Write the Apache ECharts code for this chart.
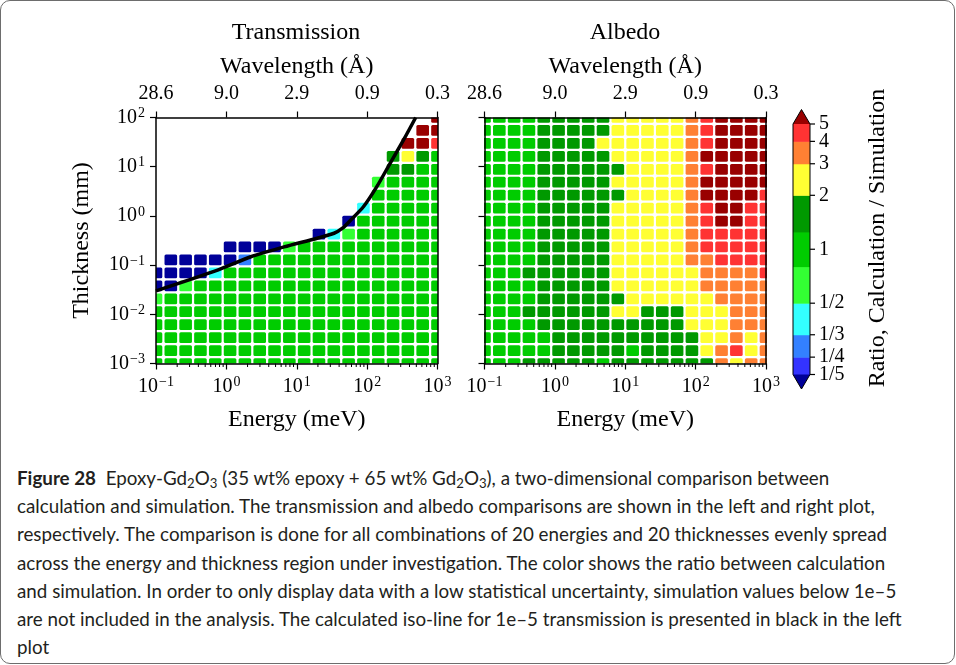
<!DOCTYPE html>
<html><head><meta charset="utf-8">
<script src="https://cdn.jsdelivr.net/npm/echarts@6/dist/echarts.min.js"></script>
<style>
html,body{margin:0;padding:0;background:#fff;}
#frame{position:absolute;left:0;top:0;width:953px;height:662px;border:1px solid #6d6d6d;border-radius:10px;}
#chart{position:absolute;left:0;top:0;width:956px;height:450px;}
#cap{position:absolute;left:17px;top:464px;font-family:Lato,'Noto Sans',sans-serif;font-size:18.8px;line-height:28.2px;color:#231f20;white-space:nowrap;}
#cap b{font-weight:bold;}
sub{font-size:0.7em;vertical-align:-0.25em;line-height:0;}
</style></head><body>
<div id="frame"></div>
<div id="chart"></div>
<div id="cap"><b>Figure 28</b>&nbsp; Epoxy-Gd<sub>2</sub>O<sub>3</sub> (35 wt% epoxy + 65 wt% Gd<sub>2</sub>O<sub>3</sub>), a two-dimensional comparison between<br>calculation and simulation. The transmission and albedo comparisons are shown in the left and right plot,<br>respectively. The comparison is done for all combinations of 20 energies and 20 thicknesses evenly spread<br>across the energy and thickness region under investigation. The color shows the ratio between calculation<br>and simulation. In order to only display data with a low statistical uncertainty, simulation values below 1e&#8211;5<br>are not included in the analysis. The calculated iso-line for 1e&#8211;5 transmission is presented in black in the left<br>plot</div>
<script>
// ---- data ----
const energies = [0.1, 0.1624, 0.2637, 0.4281, 0.6952, 1.129, 1.833, 2.976, 4.833, 7.848,
                  12.74, 20.69, 33.60, 54.56, 88.59, 143.9, 233.6, 379.3, 615.8, 1000];
const thicknesses = [0.001, 0.001833, 0.00336, 0.006158, 0.01129, 0.02069, 0.03793, 0.06952, 0.1274, 0.2336,
                     0.4281, 0.7848, 1.438, 2.637, 4.833, 8.859, 16.24, 29.76, 54.56, 100];
const waveTicks = [0.1, 1, 10, 100, 1000];
const waveLabels = ['28.6', '9.0', '2.9', '0.9', '0.3'];

// representative ratio (calculation / simulation) for each colour class
const ratioOf = {N: 0.15, B: 0.22, M: 0.29, C: 0.4, L: 0.65, G: 1.0, D: 1.6, Y: 2.5, O: 3.5, R: 4.5, K: 6.5};

// rows from the thickest (top, 100 mm) to the thinnest (bottom, 0.001 mm); columns = energies
const transmissionRows = [
  '...................K',
  '..................KK',
  '.................KKR',
  '................DYDG',
  '................DDGG',
  '...............LGGGG',
  '...............GGGGG',
  '..............CGGGGG',
  '.............NGGGGGG',
  '...........NCLGGGGGG',
  '.....NNNNLGGGGGGGGGG',
  '.NNNNNMGGGGGGGGGGGGG',
  'NNNNCGGGGGGGGGGGGGGG',
  'NNLGGGGGGGGGGGGGGGGG',
  'LGGGGGGGGGGGGGGGGGGG',
  'GGGGGGGGGGGGGGGGGGGG',
  'GGGGGGGGGGGGGGGGGGGG',
  'GGGGGGGGGGGGGGGGGGGG',
  'GGGGGGGGGGGGGGGGGGGG',
  'GGGGGGGGGGGGGGGGGGGG'
];
const albedoRows = [
  'GGGGDDDDDYYYYYORKKKK',
  'GGGGDDDDDYYYYYORKKKK',
  'GGGGDDDDYYYYYYORKKKK',
  'GGGGDDDDDYYYYYOKKKKK',
  'GGGGDDDDDDYYYYORKKKK',
  'GGGGDDDDDYYYYYOKKKKK',
  'GGGGDDDDDDYYYYOKKKKR',
  'GGGGDDDDDYYYYYORKKRR',
  'GGGGDDDDDYYYYYORKKRR',
  'GGGGDDDDDYYYYYORRRRR',
  'GGGGDDDDDYYYYYORRRRR',
  'GGGGDDDDDYYYYYOORRRR',
  'GGGDDDDDDYYYYYYOOOOR',
  'GGGGDDDDDYYYYYYOOOOO',
  'GGGGDDDDDDYYYYYYOOOO',
  'GGGDDDDDDYYDDDYYYOOO',
  'GGGGDDDDDDDDDDYYYOOO',
  'GGGGGDDDDDDDDDDYYOYO',
  'GGGGGDDDDDGDDDDYORYO',
  'GGGDDDDDGDDDDDDDOYOO'
];

// calculated 1e-5 transmission iso-line
const lineEnergy    = [0.1, 0.75, 2.23, 6.6, 19.5, 33.9, 44.7, 58.9, 89.1, 138, 214, 331, 490];
const lineThickness = [0.030, 0.079, 0.148, 0.234, 0.351, 0.444, 0.562, 0.832, 1.55, 3.98, 12.0, 35.5, 100];

// colour bar
const cbBounds = [0.2, 0.25, 1/3, 0.5, 0.8, 1.25, 2, 3, 4, 5];
const cbColors = ['#3333ff', '#3380ff', '#33ffff', '#33ff33', '#00cc00', '#009900', '#ffff33', '#ff8033', '#ff3333'];
const cbUnder = '#000099', cbOver = '#990000';
const cbTickValues = [0.2, 0.25, 1/3, 0.5, 1, 2, 3, 4, 5];
const cbTickLabels = ['1/5', '1/4', '1/3', '1/2', '1', '2', '3', '4', '5'];

// ---- helpers ----
const serif = '"Liberation Serif", "DejaVu Serif", serif';
function toData(rows) {
  const out = [];
  rows.forEach((row, r) => {
    const j = rows.length - 1 - r;
    for (let i = 0; i < row.length; i++) {
      const c = row[i];
      if (c !== '.') out.push([energies[i], thicknesses[j], ratioOf[c], i, j]);
    }
  });
  return out;
}
function edges(arr, k) {
  const n = arr.length;
  const lo = k > 0 ? Math.sqrt(arr[k-1] * arr[k]) : arr[0] * Math.sqrt(arr[0] / arr[1]);
  const hi = k < n - 1 ? Math.sqrt(arr[k] * arr[k+1]) : arr[n-1] * Math.sqrt(arr[n-1] / arr[n-2]);
  return [lo, hi];
}
function renderCell(params, api) {
  const i = api.value(3), j = api.value(4);
  const ex = edges(energies, i), ty = edges(thicknesses, j);
  const a = api.coord([ex[0], ty[1]]), b = api.coord([ex[1], ty[0]]);
  const g = 1.1;
  return {type: 'rect', shape: {x: a[0] + g, y: a[1] + g, width: b[0] - a[0] - 2*g, height: b[1] - a[1] - 2*g, r: 1.5},
          style: {fill: api.visual('color')}};
}
const minorTickValues = [];
for (let d = -1; d < 3; d++) for (let m = 2; m <= 9; m++) minorTickValues.push(m * Math.pow(10, d));
function renderMinor(params, api) {
  const children = minorTickValues.map(v => {
    const p = api.coord([v, 0.001]);
    return {type: 'line', shape: {x1: p[0], y1: p[1], x2: p[0], y2: p[1] + 3.5}, style: {stroke: '#000', lineWidth: 1}};
  });
  return {type: 'group', children};
}
function renderCbPiece(params, api) {
  const lo = api.value(1), hi = api.value(2), k = api.value(3);
  const a = api.coord([0, hi]), b = api.coord([1, lo]);
  return {type: 'rect', shape: {x: a[0], y: a[1], width: b[0] - a[0], height: b[1] - a[1] + 0.5}, style: {fill: cbColors[k]}};
}
function renderCbDeco(params, api) {
  const top = api.coord([0, cbBounds[cbBounds.length - 1]]);
  const bot = api.coord([0, cbBounds[0]]);
  const xr = api.coord([1, 1])[0], xl = top[0], xm = (xl + xr) / 2;
  const tri = 14.5;
  const children = [
    {type: 'polygon', shape: {points: [[xl, top[1]], [xm, top[1] - tri], [xr, top[1]]]}, style: {fill: cbOver}},
    {type: 'polygon', shape: {points: [[xl, bot[1]], [xm, bot[1] + tri], [xr, bot[1]]]}, style: {fill: cbUnder}},
    {type: 'polygon', shape: {points: [[xl, top[1]], [xm, top[1] - tri], [xr, top[1]], [xr, bot[1]], [xm, bot[1] + tri], [xl, bot[1]]]},
     style: {fill: null, stroke: '#000', lineWidth: 1}}
  ];
  cbTickValues.forEach((v, k) => {
    const p = api.coord([1, v]);
    children.push({type: 'line', shape: {x1: p[0], y1: p[1], x2: p[0] + 5, y2: p[1]}, style: {stroke: '#000', lineWidth: 1.2}});
    children.push({type: 'text', x: p[0] + 9, y: p[1],
      style: {text: cbTickLabels[k], font: '20px ' + serif, fill: '#000',
              textAlign: 'left', textVerticalAlign: 'middle', align: 'left', verticalAlign: 'middle'}});
  });
  return {type: 'group', children};
}
function powLabel(v) {
  const e = Math.round(Math.log10(v));
  return '{b|10}{s|' + (e < 0 ? '\u2212' + (-e) : String(e)) + '}';
}
function waveLabel(v) {
  let best = 0;
  waveTicks.forEach((t, k) => { if (Math.abs(Math.log10(t) - Math.log10(v)) < Math.abs(Math.log10(waveTicks[best]) - Math.log10(v))) best = k; });
  return waveLabels[best];
}
const rich = {
  b: {fontSize: 20, fontFamily: serif, color: '#000', lineHeight: 22},
  s: {fontSize: 14, fontFamily: serif, color: '#000', verticalAlign: 'top', lineHeight: 14, padding: [0, 0, 0, 1]}
};
const axisLine = {show: true, onZero: false, lineStyle: {color: '#000', width: 1.5}};
const nameStyle = {fontSize: 24, fontFamily: serif, color: '#000'};

function energyAxis(grid) {
  return {type: 'log', logBase: 10, gridIndex: grid, min: 0.1, max: 1000, position: 'bottom',
    name: 'Energy (meV)', nameLocation: 'middle', nameGap: 44, nameTextStyle: nameStyle,
    axisLine, axisTick: {show: true, inside: false, length: 6, lineStyle: {color: '#000', width: 1.2}},
    axisLabel: {formatter: powLabel, rich, margin: 12, showMinLabel: true, showMaxLabel: true},
    splitLine: {show: false}, minorTick: {show: false}, z: 5};
}
function waveAxis(grid) {
  return {type: 'log', logBase: 10, gridIndex: grid, min: 0.1, max: 1000, position: 'top',
    name: 'Wavelength (\u00c5)', nameLocation: 'middle', nameGap: 38, nameTextStyle: nameStyle,
    axisLine, axisTick: {show: true, inside: false, length: 6, lineStyle: {color: '#000', width: 1.2}},
    axisLabel: {formatter: waveLabel, fontSize: 20, fontFamily: serif, color: '#000', margin: 14, showMinLabel: true, showMaxLabel: true},
    splitLine: {show: false}, z: 5};
}
function thickAxis(grid, withLabels) {
  return {type: 'log', logBase: 10, gridIndex: grid, min: 0.001, max: 100, position: 'left',
    name: withLabels ? 'Thickness (mm)' : '', nameLocation: 'middle', nameGap: 62, nameRotate: 90, nameTextStyle: nameStyle,
    axisLine, axisTick: {show: true, inside: false, length: 6, lineStyle: {color: '#000', width: 1.2}},
    axisLabel: {show: withLabels, formatter: powLabel, rich, margin: 11, showMinLabel: true, showMaxLabel: true},
    splitLine: {show: false}, z: 5};
}
function rightAxis(grid) {
  return {type: 'log', logBase: 10, gridIndex: grid, min: 0.001, max: 100, position: 'right',
    axisLine, axisTick: {show: false}, axisLabel: {show: false}, splitLine: {show: false}, z: 5};
}

const visualPieces = [{lt: cbBounds[0], color: cbUnder}];
cbColors.forEach((c, k) => visualPieces.push({gte: cbBounds[k], lt: cbBounds[k+1], color: c}));
visualPieces.push({gte: cbBounds[cbBounds.length - 1], color: cbOver});

const chart = echarts.init(document.getElementById('chart'), null, {renderer: 'canvas'});
chart.setOption({
  animation: false,
  backgroundColor: 'transparent',
  grid: [
    {left: 156, top: 117.5, width: 281.5, height: 246},
    {left: 484.5, top: 117.5, width: 281.5, height: 246},
    {left: 793, top: 124, width: 17, height: 250.5}
  ],
  xAxis: [energyAxis(0), waveAxis(0), energyAxis(1), waveAxis(1),
          {type: 'value', gridIndex: 2, min: 0, max: 1, show: false}],
  yAxis: [thickAxis(0, true), rightAxis(0), thickAxis(1, false), rightAxis(1),
          {type: 'log', logBase: 10, gridIndex: 2, min: 0.2, max: 5, show: false}],
  visualMap: {type: 'piecewise', show: false, dimension: 2, seriesIndex: [0, 1], pieces: visualPieces},
  graphic: [
    {type: 'text', x: 296, y: 33, style: {text: 'Transmission', font: '24px ' + serif, fill: '#000', textAlign: 'center', textVerticalAlign: 'middle', align: 'center', verticalAlign: 'middle'}},
    {type: 'text', x: 625, y: 33, style: {text: 'Albedo', font: '24px ' + serif, fill: '#000', textAlign: 'center', textVerticalAlign: 'middle', align: 'center', verticalAlign: 'middle'}},
    {type: 'text', x: 878, y: 238, rotation: Math.PI / 2, style: {text: 'Ratio, Calculation / Simulation', font: '24px ' + serif, fill: '#000', textAlign: 'center', textVerticalAlign: 'middle', align: 'center', verticalAlign: 'middle'}}
  ],
  series: [
    {type: 'custom', name: 'Transmission', xAxisIndex: 0, yAxisIndex: 0, renderItem: renderCell, clip: true,
     encode: {x: 0, y: 1}, data: toData(transmissionRows), z: 2},
    {type: 'custom', name: 'Albedo', xAxisIndex: 2, yAxisIndex: 2, renderItem: renderCell, clip: true,
     encode: {x: 0, y: 1}, data: toData(albedoRows), z: 2},
    {type: 'line', xAxisIndex: 0, yAxisIndex: 0, data: lineEnergy.map((e, k) => [e, lineThickness[k]]),
     showSymbol: false, symbol: 'none', smooth: 0.25, lineStyle: {color: '#000', width: 3.5}, z: 4, clip: true},
    {type: 'custom', xAxisIndex: 0, yAxisIndex: 0, renderItem: renderMinor, clip: false, encode: {x: 0, y: 1}, data: [[1, 1]], z: 5},
    {type: 'custom', xAxisIndex: 2, yAxisIndex: 2, renderItem: renderMinor, clip: false, encode: {x: 0, y: 1}, data: [[1, 1]], z: 5},
    {type: 'custom', xAxisIndex: 4, yAxisIndex: 4, renderItem: renderCbPiece, clip: false, encode: {x: 0, y: [1, 2]},
     data: cbColors.map((c, k) => [0.5, cbBounds[k], cbBounds[k+1], k]), z: 2},
    {type: 'custom', xAxisIndex: 4, yAxisIndex: 4, renderItem: renderCbDeco, clip: false, encode: {x: 0, y: 1},
     data: [[0.5, 1]], z: 3}
  ]
});
</script>
</body></html>
